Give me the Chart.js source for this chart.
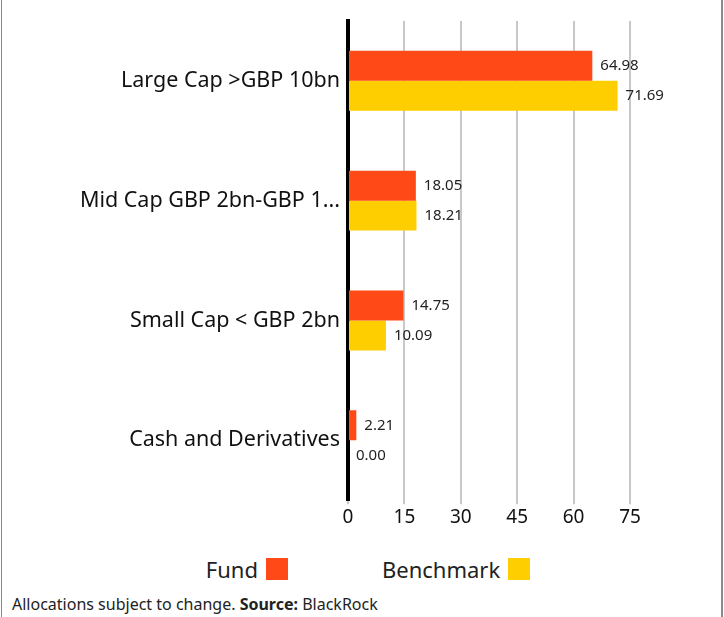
<!DOCTYPE html>
<html><head><meta charset="utf-8">
<script src="https://cdn.jsdelivr.net/npm/chart.js@4/dist/chart.umd.min.js"></script>
<style>
html,body{margin:0;padding:0;background:#fff;}
#wrap{position:relative;width:724px;height:617px;overflow:hidden;font-family:"Noto Sans",Arial,sans-serif;}
#frameL{position:absolute;left:1px;top:0;width:1px;height:617px;background:#8a8a8a;}
#frameR{position:absolute;left:721px;top:0;width:2px;height:617px;background:#8a8a8a;}
#cv{position:absolute;left:0;top:0;}
#legend{position:absolute;left:6px;top:554px;width:724px;display:flex;justify-content:center;gap:94px;font-size:22px;color:#222;}
#legend span.it{display:flex;align-items:center;}
#legend span.box{display:inline-block;width:22px;height:22px;margin-left:8px;}
#foot{position:absolute;left:12px;top:593px;font-size:16px;color:#222;}
</style></head>
<body><div id="wrap">
<div id="frameL"></div><div id="frameR"></div>
<canvas id="cv" width="724" height="531"></canvas>
<div id="legend"></div>
<div id="foot">Allocations subject to change. <b>Source:</b> BlackRock</div>
</div>
<script>
const categories = ["Large Cap >GBP 10bn", "Mid Cap GBP 2bn-GBP 1...", "Small Cap < GBP 2bn", "Cash and Derivatives"];
const fundValues = [64.98, 18.05, 14.75, 2.21];
const benchmarkValues = [71.69, 18.21, 10.09, 0.00];
const seriesNames = ["Fund", "Benchmark"];
const seriesColors = ["#FF4A17", "#FFCE00"];

const FONT = '"Noto Sans", Arial, sans-serif';

const valueLabels = {
  id: 'valueLabels',
  afterDatasetsDraw(chart) {
    const ctx = chart.ctx;
    ctx.save();
    ctx.font = '15px ' + FONT;
    ctx.fillStyle = '#222';
    ctx.textBaseline = 'middle';
    ctx.textAlign = 'left';
    chart.data.datasets.forEach((ds, di) => {
      chart.getDatasetMeta(di).data.forEach((bar, i) => {
        ctx.fillText(ds.data[i].toFixed(2), bar.x + 8, bar.y);
      });
    });
    ctx.restore();
  }
};

new Chart(document.getElementById('cv'), {
  type: 'bar',
  data: {
    labels: categories,
    datasets: [
      { label: seriesNames[0], data: fundValues, backgroundColor: seriesColors[0] },
      { label: seriesNames[1], data: benchmarkValues, backgroundColor: seriesColors[1] }
    ]
  },
  options: {
    indexAxis: 'y',
    responsive: false,
    animation: false,
    categoryPercentage: 0.5,
    barPercentage: 1.0,
    layout: { padding: { top: 20, right: 94, left: 0, bottom: 0 } },
    plugins: { legend: { display: false }, tooltip: { enabled: false } },
    scales: {
      x: {
        min: 0, max: 75,
        ticks: { stepSize: 15, font: { size: 19, family: FONT }, color: '#111', padding: 2 },
        grid: { color: '#c8c8c8', lineWidth: 2, drawTicks: true, tickLength: 4 },
        border: { display: false }
      },
      y: {
        afterFit: s => { s.width = 348; },
        ticks: { font: { size: 21.5, family: FONT }, color: '#111', padding: 8 },
        grid: { display: false, drawTicks: false },
        border: { display: true, color: '#000', width: 4 }
      }
    }
  },
  plugins: [valueLabels]
});

const lg = document.getElementById('legend');
seriesNames.forEach((n, i) => {
  const s = document.createElement('span'); s.className = 'it';
  s.innerHTML = n + '<span class="box" style="background:' + seriesColors[i] + '"></span>';
  lg.appendChild(s);
});
</script>
</body></html>
